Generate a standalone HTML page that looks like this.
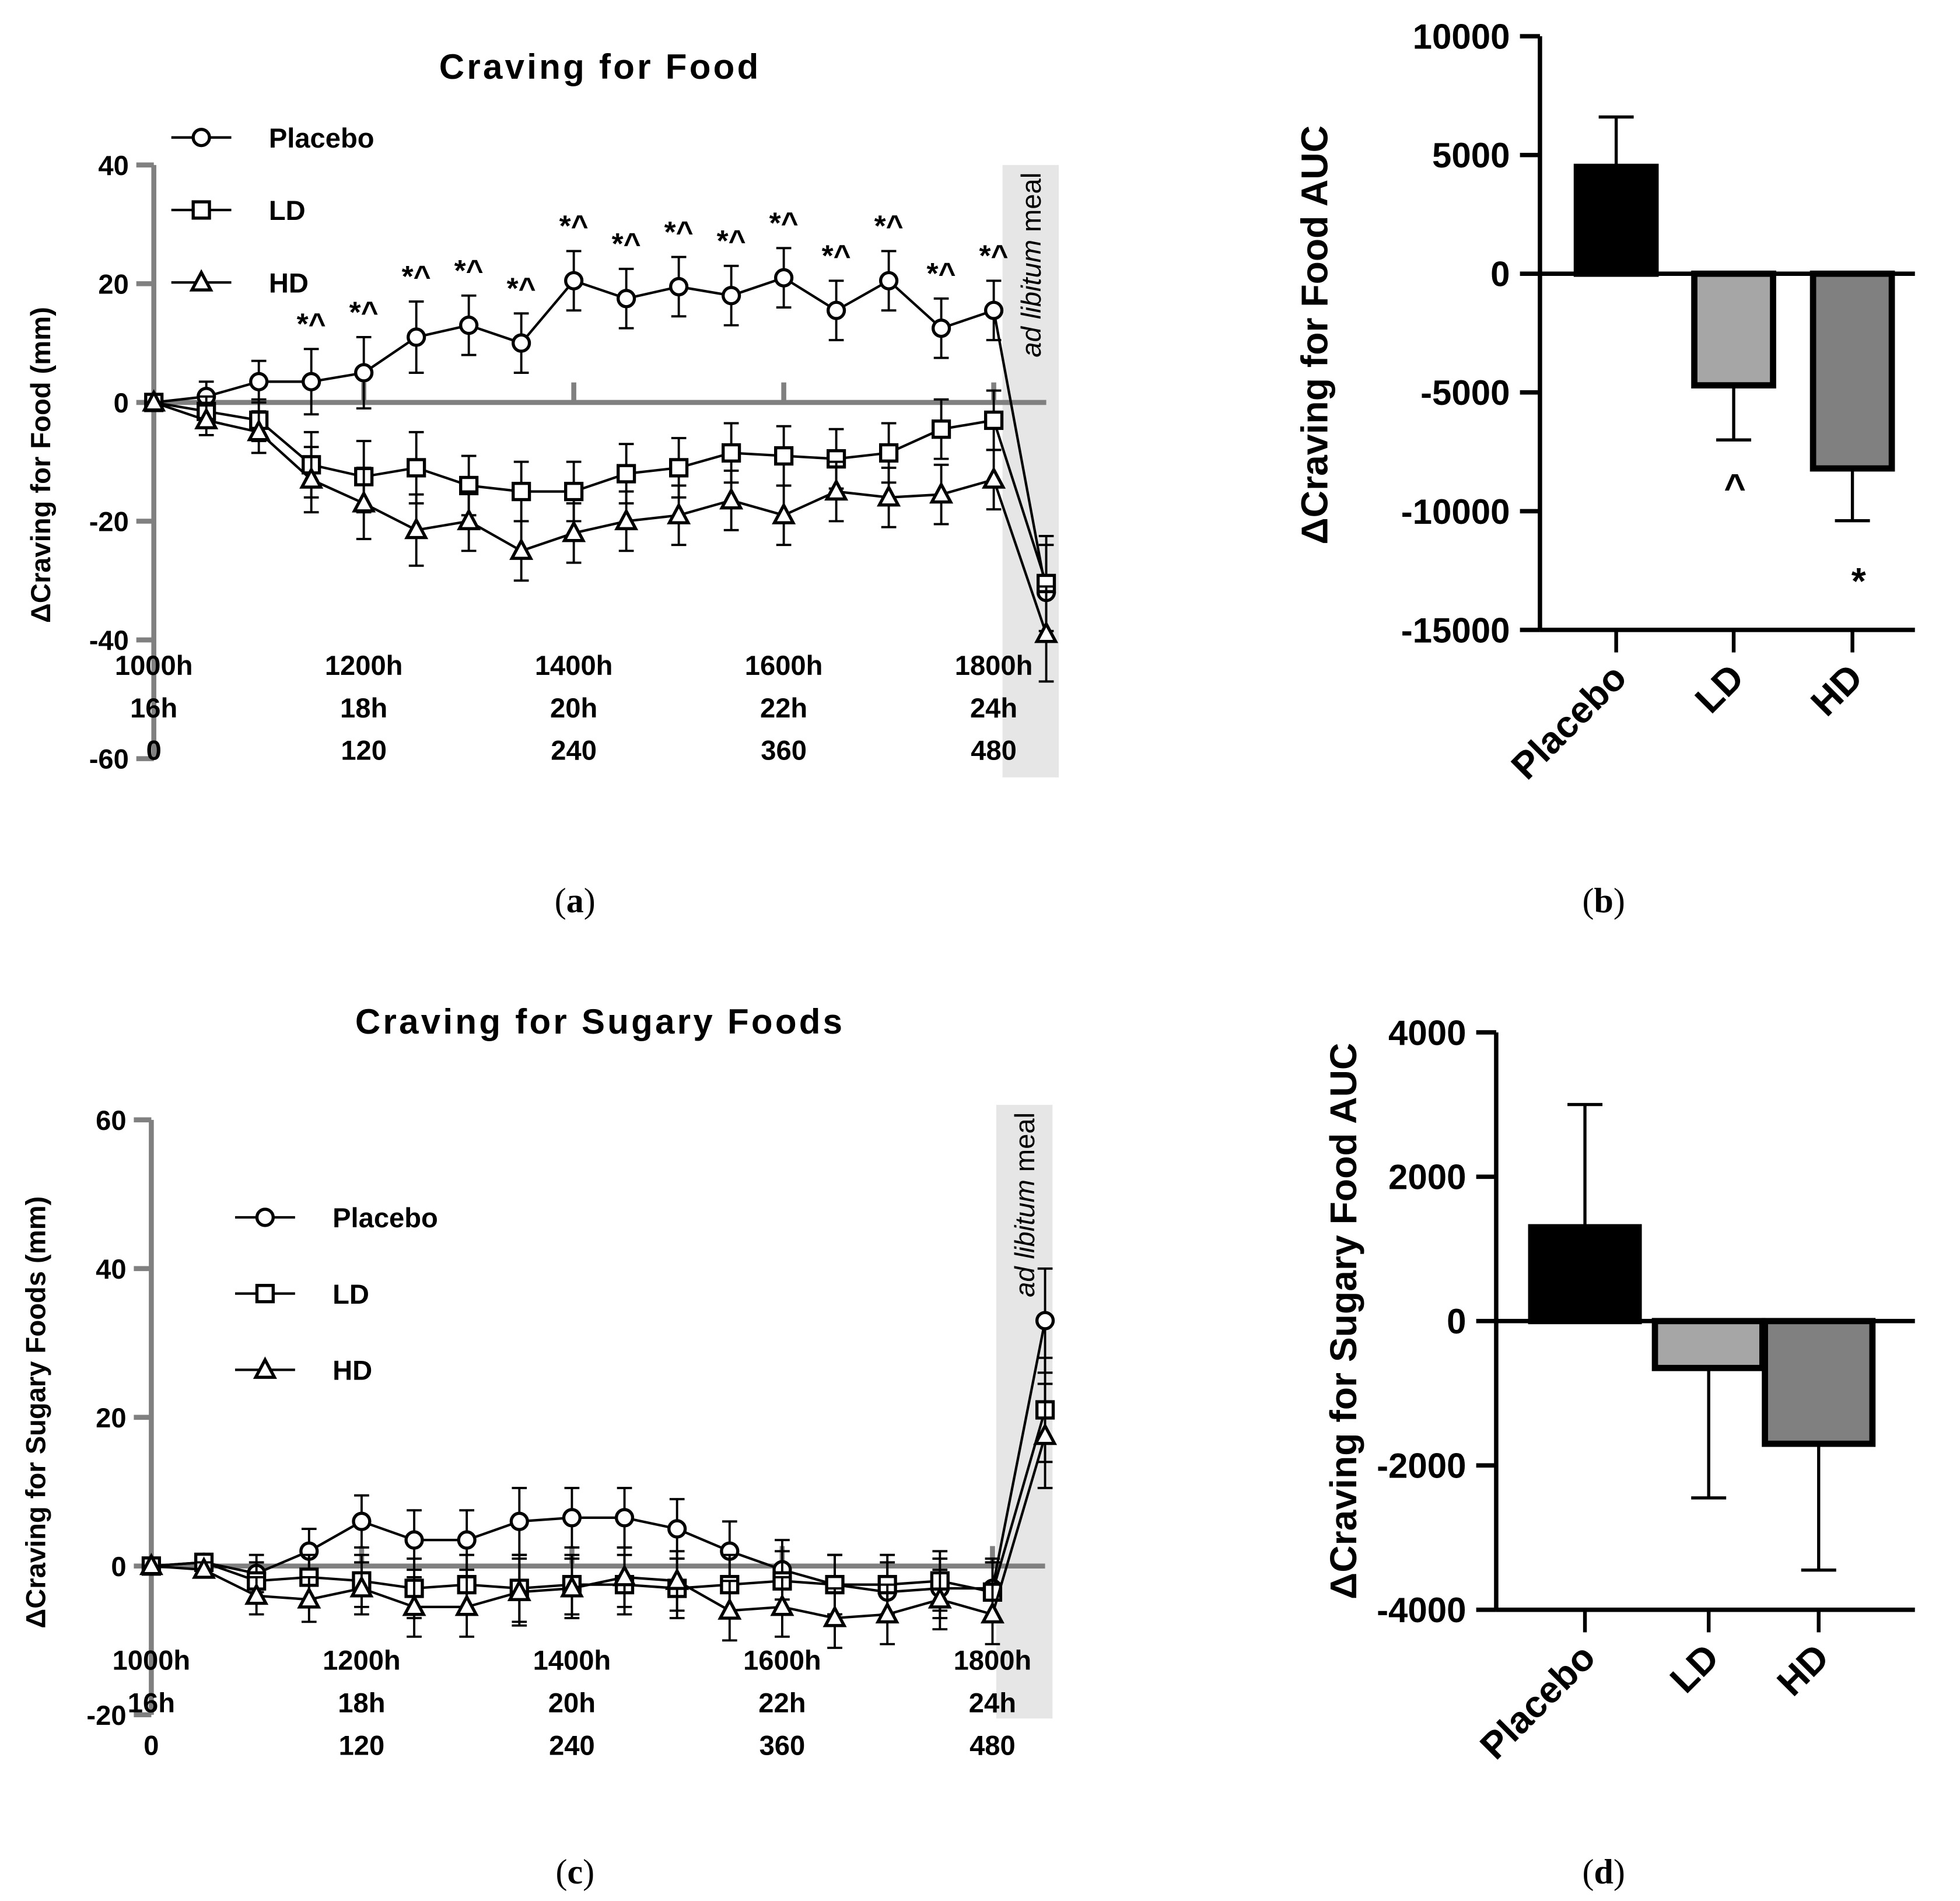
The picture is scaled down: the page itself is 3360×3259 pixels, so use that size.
<!DOCTYPE html>
<html><head><meta charset="utf-8"><style>
html,body{margin:0;padding:0;background:#fff}
svg{display:block}
text{font-family:"Liberation Sans",sans-serif}
</style></head><body>
<svg id="s" width="3360" height="3259" viewBox="0 0 1568 1521" xmlns="http://www.w3.org/2000/svg">
<g id="pa"></g>
<g id="pb"></g>
<g id="pc"></g>
<g id="pd"></g>
<text x="460" y="730" text-anchor="middle" font-size="28" style="font-family:'Liberation Serif',serif">(<tspan font-weight="bold">a</tspan>)</text>
<text x="1283" y="730" text-anchor="middle" font-size="28" style="font-family:'Liberation Serif',serif">(<tspan font-weight="bold">b</tspan>)</text>
<text x="460" y="1507" text-anchor="middle" font-size="28" style="font-family:'Liberation Serif',serif">(<tspan font-weight="bold">c</tspan>)</text>
<text x="1283" y="1507" text-anchor="middle" font-size="28" style="font-family:'Liberation Serif',serif">(<tspan font-weight="bold">d</tspan>)</text>
</svg>
<script>
const timesMin=[0,30,60,90,120,150,180,210,240,270,300,330,360,390,420,450,480,510];
const seriesNames=["Placebo","LD","HD"];
const foodPlacebo=[0,1,3.5,3.5,5,11,13,10,20.5,17.5,19.5,18,21,15.5,20.5,12.5,15.5,-32];
const foodLD=[0,-1.5,-3,-10.5,-12.5,-11,-14,-15,-15,-12,-11,-8.5,-9,-9.5,-8.5,-4.5,-3,-30.5];
const foodHD=[0,-3,-5,-13,-17,-21.5,-20,-25,-22,-20,-19,-16.5,-19,-15,-16,-15.5,-13,-39];
const foodErr=[0,2.5,3.5,5.5,6,6,5,5,5,5,5,5,5,5,5,5,5,8];
const sugarPlacebo=[0,0.5,-1,2,6,3.5,3.5,6,6.5,6.5,5,2,-0.5,-2.5,-3.5,-3,-3,33];
const sugarLD=[0,0.5,-2,-1.5,-2,-3,-2.5,-3,-2.5,-2.5,-3,-2.5,-2,-2.5,-2.5,-2,-3.5,21];
const sugarHD=[0,-0.5,-4,-4.5,-3,-5.5,-5.5,-3.5,-3,-1.5,-2,-6,-5.5,-7,-6.5,-4.5,-6.5,17.5];
const sugarErr=[0,1,2.5,3,3.5,4,4,4.5,4,4,4,4,4,4,4,4,4,7];
const xTickMin=[0,120,240,360,480];
const xTickClock=["1000h","1200h","1400h","1600h","1800h"];
const xTickHours=["16h","18h","20h","22h","24h"];
const foodYTicks=[40,20,0,-20,-40,-60];
const sugarYTicks=[60,40,20,0,-20];
const aucFood=[4500,-4700,-8200];
const aucFoodErr=[2100,2300,2200];
const aucFoodTicks=[10000,5000,0,-5000,-10000,-15000];
const aucSugar=[1300,-650,-1700];
const aucSugarErr=[1700,1800,1750];
const aucSugarTicks=[4000,2000,0,-2000,-4000];
const barFills=["#000","#a6a6a6","#808080"];
const NS="http://www.w3.org/2000/svg";
function el(p,t,a){const e=document.createElementNS(NS,t);for(const k in a)e.setAttribute(k,a[k]);p.appendChild(e);return e;}
function txt(p,x,y,s,fs,extra){const e=el(p,"text",Object.assign({x:x,y:y,"font-size":fs,"font-weight":"bold","text-anchor":"middle"},extra||{}));e.textContent=s;return e;}
function marker(g,type,x,y){
  if(type===0)return el(g,"circle",{cx:x,cy:y,r:6.5,fill:"#fff",stroke:"#000","stroke-width":2.5});
  if(type===1)return el(g,"rect",{x:x-6.5,y:y-6.5,width:13,height:13,fill:"#fff",stroke:"#000","stroke-width":2.5});
  return el(g,"polygon",{points:`${x},${y-8} ${x-7.5},${y+6} ${x+7.5},${y+6}`,fill:"#fff",stroke:"#000","stroke-width":2.5});
}
function linePanel(g,cfg){
  const X=m=>cfg.x0+(m/120)*cfg.xs, Y=v=>cfg.y0-v*cfg.ys;
  const band=el(g,"rect",{x:cfg.band[0],y:cfg.band[1],width:cfg.band[2],height:cfg.band[3],fill:"#e6e6e6"});
  
  const bl=el(g,"text",{x:0,y:0,"font-size":22,"text-anchor":"end",transform:`translate(${cfg.band[0]+cfg.band[2]/2+8},${cfg.band[1]+6}) rotate(-90)`});
  bl.innerHTML='<tspan font-style="italic">ad libitum</tspan><tspan> meal</tspan>';
  
  const t=txt(g,cfg.tx,cfg.ty,cfg.title,28,{"letter-spacing":"2"});
  const ya=el(g,"line",{x1:cfg.x0,x2:cfg.x0,y1:Y(cfg.yt[0]),y2:Y(cfg.yt[cfg.yt.length-1]),stroke:"#808080","stroke-width":4});
  
  cfg.yt.forEach(v=>{el(g,"line",{x1:cfg.x0-14,x2:cfg.x0,y1:Y(v),y2:Y(v),stroke:"#808080","stroke-width":4});
    const l=txt(g,cfg.x0-20,Y(v)+8,String(v),22,{"text-anchor":"end"});});
  const xa=el(g,"line",{x1:cfg.x0,x2:X(510),y1:Y(0),y2:Y(0),stroke:"#808080","stroke-width":4});
  
  xTickMin.forEach((m,i)=>{if(i>0)el(g,"line",{x1:X(m),x2:X(m),y1:Y(0),y2:Y(0)-16,stroke:"#808080","stroke-width":4});
    [xTickClock[i],xTickHours[i],String(m)].forEach((s,j)=>{const l=txt(g,X(m),cfg.xl+j*34,s,22);});});
  const yl=txt(g,0,0,cfg.ylab,22,{transform:`translate(${cfg.ylx},${cfg.yly}) rotate(-90)`});
  
  cfg.series.forEach((d,si)=>{
    const sg=el(g,"g",{});
    el(sg,"polyline",{points:d.map((v,i)=>X(timesMin[i])+","+Y(v)).join(" "),fill:"none",stroke:"#000","stroke-width":2});
    d.forEach((v,i)=>{const e=cfg.err[i];if(e>0){
      el(sg,"line",{x1:X(timesMin[i]),x2:X(timesMin[i]),y1:Y(v-e),y2:Y(v+e),stroke:"#000","stroke-width":1.8});
      [v-e,v+e].forEach(w=>el(sg,"line",{x1:X(timesMin[i])-6,x2:X(timesMin[i])+6,y1:Y(w),y2:Y(w),stroke:"#000","stroke-width":1.8}));}});
    d.forEach((v,i)=>{const m=marker(sg,si,X(timesMin[i]),Y(v));});
  });
  seriesNames.forEach((n,i)=>{const ly=cfg.leg[1]+i*cfg.leg[2];
    el(g,"line",{x1:cfg.leg[0],x2:cfg.leg[0]+48,y1:ly,y2:ly,stroke:"#000","stroke-width":2});
    const m=marker(g,i,cfg.leg[0]+24,ly);
    const l=txt(g,cfg.leg[0]+78,ly+8,n,22,{"text-anchor":"start"});});
  if(cfg.stars){cfg.series[0].forEach((v,i)=>{if(i>=3&&i<=16){const s=txt(g,X(timesMin[i]),Y(v+cfg.err[i])-12,"*^",24);}});}
}
function barPanel(g,cfg){
  const Y=v=>cfg.y0-v*cfg.ys;
  cfg.vals.forEach((v,i)=>{const cx=cfg.cx[i];
    const e=cfg.err[i], tip=v>=0?v+e:v-e;
    el(g,"line",{x1:cx,x2:cx,y1:Y(v),y2:Y(tip),stroke:"#000","stroke-width":2.5});
    el(g,"line",{x1:cx-14,x2:cx+14,y1:Y(tip),y2:Y(tip),stroke:"#000","stroke-width":2.5});
    const r=el(g,"rect",{x:cx-cfg.bw/2,y:Math.min(Y(v),Y(0)),width:cfg.bw,height:Math.abs(Y(v)-Y(0)),fill:barFills[i],stroke:"#000","stroke-width":5});
    
    el(g,"line",{x1:cx,x2:cx,y1:Y(cfg.yt[cfg.yt.length-1]),y2:Y(cfg.yt[cfg.yt.length-1])+18,stroke:"#000","stroke-width":3});
    const l=txt(g,0,0,seriesNames[i],30,{"text-anchor":"end",transform:`translate(${cx+10},${Y(cfg.yt[cfg.yt.length-1])+40}) rotate(-45)`});
    
  });
  const ya=el(g,"line",{x1:cfg.x0,x2:cfg.x0,y1:Y(cfg.yt[0]),y2:Y(cfg.yt[cfg.yt.length-1]),stroke:"#000","stroke-width":3.5});
  
  el(g,"line",{x1:cfg.x0,x2:cfg.x1,y1:Y(0),y2:Y(0),stroke:"#000","stroke-width":3.5});
  el(g,"line",{x1:cfg.x0,x2:cfg.x1,y1:Y(cfg.yt[cfg.yt.length-1]),y2:Y(cfg.yt[cfg.yt.length-1]),stroke:"#000","stroke-width":3.5});
  cfg.yt.forEach(v=>{el(g,"line",{x1:cfg.x0-16,x2:cfg.x0,y1:Y(v),y2:Y(v),stroke:"#000","stroke-width":3.5});
    const l=txt(g,cfg.x0-24,Y(v)+10,String(v),28,{"text-anchor":"end"});});
  const yl=txt(g,0,0,cfg.ylab,30,{transform:`translate(${cfg.ylx},${cfg.yly}) rotate(-90)`});
  
  (cfg.marks||[]).forEach(m=>{const s=txt(g,m[0],m[1],m[2],30);});
}
linePanel(document.getElementById("pa"),{x0:123,xs:168,y0:322,ys:4.75,yt:foodYTicks,series:[foodPlacebo,foodLD,foodHD],err:foodErr,
  band:[802,132,45,490],title:"Craving for Food",tx:480,ty:63,xl:540,ylab:"ΔCraving for Food  (mm)",ylx:40,yly:372,leg:[137,110,58],stars:true});
linePanel(document.getElementById("pc"),{x0:121,xs:168.25,y0:1253,ys:5.95,yt:sugarYTicks,series:[sugarPlacebo,sugarLD,sugarHD],err:sugarErr,
  band:[797,884,45,491],title:"Craving for Sugary Foods",tx:480,ty:827,xl:1336,ylab:"ΔCraving for Sugary Foods (mm)",ylx:36,yly:1130,leg:[188,974,61],stars:false});
barPanel(document.getElementById("pb"),{x0:1232,x1:1532,y0:219,ys:0.019,yt:aucFoodTicks,vals:aucFood,err:aucFoodErr,cx:[1293,1387,1482],bw:63,
  ylab:"ΔCraving for Food AUC",ylx:1062,yly:268,marks:[[1388,400,"^"],[1487,475,"*"]]});
barPanel(document.getElementById("pd"),{x0:1197,x1:1532,y0:1057,ys:0.05775,yt:aucSugarTicks,vals:aucSugar,err:aucSugarErr,cx:[1268,1367,1455],bw:86,
  ylab:"ΔCraving for Sugary Food AUC",ylx:1085,yly:1057});
</script>
</body></html>
